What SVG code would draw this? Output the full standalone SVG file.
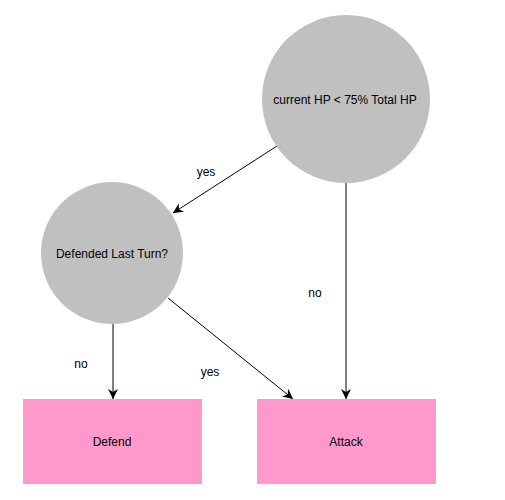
<svg xmlns="http://www.w3.org/2000/svg" width="505" height="500" viewBox="0 0 505 500">
<style>
.c{fill:#c0c0c0;stroke:none}
.r{fill:#ff99cc;stroke:none}
text{font-family:"Liberation Sans",Arial,sans-serif;font-size:12px;fill:#000;text-anchor:middle;dominant-baseline:central}
.e{stroke:#000;stroke-width:1;fill:none;marker-end:url(#a)}
</style>
<defs>
<marker id="a" markerWidth="12" markerHeight="12" viewBox="0 0 12 12" refX="10" refY="6" orient="auto" markerUnits="userSpaceOnUse">
<path d="M0,1 L10,6 L0,11 L3,6 Z" fill="#000"/>
</marker>
</defs>
<rect width="505" height="500" fill="#fff"/>
<g id="connectors">
<path class="e" d="M277,146 L173,213"/>
<path class="e" d="M346,183 L346,399"/>
<path class="e" d="M113,324 L113,399"/>
<path class="e" d="M168,298 L293,399"/>
<text x="206" y="172">yes</text>
<text x="315" y="293">no</text>
<text x="81" y="364">no</text>
<text x="210" y="372">yes</text>
</g>
<g id="n1"><circle class="c" cx="346" cy="99" r="84"/><text x="345" y="100">current HP &lt; 75% Total HP</text></g>
<g id="n2"><circle class="c" cx="112" cy="253" r="71"/><text x="112" y="254">Defended Last Turn?</text></g>
<g id="n3"><rect class="r" x="23" y="399" width="179" height="85"/><text x="112" y="442">Defend</text></g>
<g id="n4"><rect class="r" x="257" y="399" width="179" height="85"/><text x="346" y="442">Attack</text></g>
</svg>
